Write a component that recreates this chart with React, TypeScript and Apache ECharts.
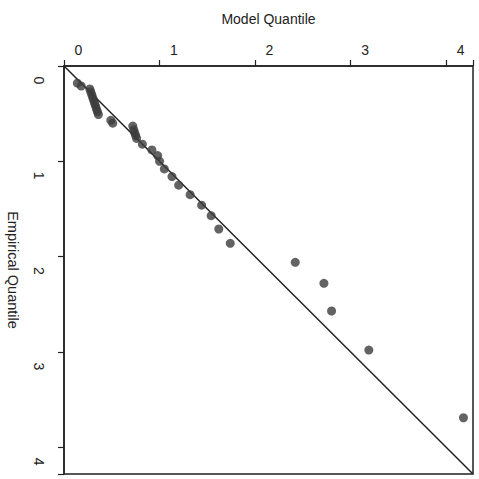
import React, { useEffect, useRef } from "react";
import * as echarts from "echarts";

// Model (theoretical) quantiles and empirical quantiles
const modelQuantile = [
  -0.01, 0.03, 0.12, 0.13, 0.14, 0.15, 0.16, 0.17, 0.18, 0.19, 0.2, 0.21,
  0.34, 0.36, 0.57, 0.58, 0.59, 0.6, 0.61, 0.67, 0.77, 0.83, 0.85, 0.9,
  0.98, 1.05, 1.17, 1.29, 1.39, 1.47, 1.59, 2.27, 2.57, 2.65, 3.04, 4.03,
];
const empiricalQuantile = [
  0.03, 0.06, 0.09, 0.12, 0.15, 0.18, 0.21, 0.24, 0.27, 0.3, 0.33, 0.36,
  0.42, 0.45, 0.48, 0.52, 0.55, 0.58, 0.61, 0.67, 0.73, 0.79, 0.85, 0.93,
  1.01, 1.1, 1.2, 1.31, 1.42, 1.56, 1.71, 1.91, 2.13, 2.42, 2.83, 3.54,
];
const tickLabels = ["0", "1", "2", "3", "4"];
const axisMin = -0.15;
const axisMax = 4.13;

export default function App() {
  const ref = useRef<HTMLDivElement>(null);
  useEffect(() => {
    if (!ref.current) return;
    const chart = echarts.init(ref.current, null, { renderer: "svg" });
    const font = "Liberation Sans, Arial, sans-serif";
    const ink = "#222";
    const points = modelQuantile.map((x, i) => [x, empiricalQuantile[i]]);
    chart.setOption({
      animation: false,
      backgroundColor: "#fff",
      grid: {
        left: 64,
        right: 6,
        top: 66,
        bottom: 5,
        outerBoundsMode: "none",
        containLabel: false,
        show: true,
        borderColor: ink,
        borderWidth: 1.5,
        backgroundColor: "transparent",
      },
      xAxis: {
        type: "value",
        position: "top",
        min: axisMin,
        max: axisMax,
        interval: 1,
        name: "Model Quantile",
        nameLocation: "middle",
        nameGap: 40,
        nameTextStyle: { fontFamily: font, fontSize: 14, color: ink },
        axisLine: { show: true, onZero: false, lineStyle: { color: ink, width: 1.5 } },
        axisTick: { show: true, length: 6, lineStyle: { color: ink, width: 1.2 } },
        splitLine: { show: false },
        axisLabel: {
          fontFamily: font,
          fontSize: 14,
          color: ink,
          margin: 9,
          customValues: [0, 1, 2, 3, 4],
          formatter: (v: number) => tickLabels[Math.round(v)] ?? "",
        },
      },
      yAxis: {
        type: "value",
        inverse: true,
        min: axisMin,
        max: axisMax,
        interval: 1,
        name: "Empirical Quantile",
        nameLocation: "middle",
        nameRotate: -90,
        nameGap: 44,
        nameTextStyle: { fontFamily: font, fontSize: 14.5, color: ink },
        axisLine: { show: true, onZero: false, lineStyle: { color: ink, width: 1.5 } },
        axisTick: { show: true, length: 6, lineStyle: { color: ink, width: 1.2 } },
        splitLine: { show: false },
        axisLabel: {
          fontFamily: font,
          fontSize: 14,
          color: ink,
          rotate: -90,
          margin: 18,
          customValues: [0, 1, 2, 3, 4],
          formatter: (v: number) => tickLabels[Math.round(v)] ?? "",
        },
      },
      series: [
        {
          type: "line",
          data: [
            [axisMin, axisMin],
            [axisMax, axisMax],
          ],
          showSymbol: false,
          lineStyle: { color: ink, width: 1.5 },
          z: 2,
        },
        {
          type: "scatter",
          data: points,
          symbol: "circle",
          symbolSize: 9,
          itemStyle: { color: "#3c3c3c" },
          z: 3,
        },
      ],
    });
    return () => chart.dispose();
  }, []);
  return (
    <div
      ref={ref}
      style={{ position: "fixed", left: 0, top: 0, width: 479, height: 479 }}
    />
  );
}
